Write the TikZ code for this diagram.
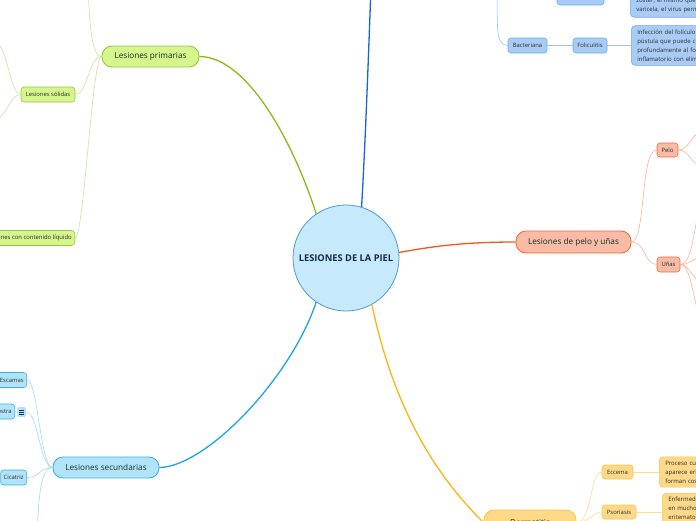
\documentclass[tikz,border=0pt]{standalone}
\usepackage{fontspec}
\setmainfont{Open Sans}
\usetikzlibrary{positioning}
\definecolor{centrefill}{RGB}{198,233,251}
\definecolor{centreline}{RGB}{77,155,214}
\definecolor{centretext}{RGB}{21,41,74}
\definecolor{labeltext}{RGB}{24,50,36}
\definecolor{smalltext}{RGB}{45,45,45}
\definecolor{greenline}{RGB}{134,190,20}
\definecolor{greenfill}{RGB}{214,245,140}
\definecolor{greenedge}{RGB}{150,201,61}
\definecolor{greenthin}{RGB}{200,228,150}
\definecolor{navyline}{RGB}{21,101,216}
\definecolor{bluefill}{RGB}{169,204,247}
\definecolor{blueedge}{RGB}{111,168,236}
\definecolor{bluethin}{RGB}{157,195,240}
\definecolor{redline}{RGB}{242,88,30}
\definecolor{redfill}{RGB}{248,187,166}
\definecolor{rededge}{RGB}{242,107,58}
\definecolor{redthin}{RGB}{249,180,155}
\definecolor{cyanline}{RGB}{28,164,232}
\definecolor{cyanfill}{RGB}{177,228,251}
\definecolor{cyanedge}{RGB}{59,177,230}
\definecolor{cyanthin}{RGB}{158,217,245}
\definecolor{yellowline}{RGB}{251,181,21}
\definecolor{yellowfill}{RGB}{254,217,138}
\definecolor{yellowedge}{RGB}{252,197,74}
\definecolor{yellowthin}{RGB}{253,219,143}

\tikzset{
  topic/.style={draw, rounded corners=10pt, line width=0.9pt, minimum height=21pt,
    inner sep=0pt, text=labeltext, font=\fontsize{8.2}{9}\selectfont},
  subtopic/.style={draw, rounded corners=3pt, line width=0.6pt, minimum height=15pt,
    inner xsep=3pt, inner ysep=0pt, text=smalltext, font=\fontsize{5.9}{6.5}\selectfont},
  note/.style={draw, rounded corners=4pt, line width=0.6pt, align=left, text width=80pt,
    inner xsep=6pt, inner ysep=4pt, text=smalltext, font=\fontsize{6}{9}\selectfont},
  branch/.style={line width=1.3pt},
  twig/.style={line width=0.6pt}
}

\begin{document}
\begin{tikzpicture}[x=1pt,y=-1pt]
\useasboundingbox (0,0) rectangle (696,520);
\clip (0,0) rectangle (696,520);

% centre
\node[circle, draw=centreline, fill=centrefill, line width=0.8pt, minimum size=106pt,
  inner sep=0pt, text=centretext, font=\fontsize{9.3}{10}\selectfont\bfseries] (piel) at (346,258) {LESIONES DE LA PIEL};

% main topics
\node[topic, fill=greenfill, draw=greenedge, minimum width=97pt] (prim) at (150.5,56.5) {Lesiones primarias};
\node[topic, fill=redfill, draw=rededge, minimum width=115pt, minimum height=22pt] (pelounas) at (573.5,242) {Lesiones de pelo y uñas};
\node[topic, fill=cyanfill, draw=cyanedge, minimum width=106pt] (secu) at (106,467.5) {Lesiones secundarias};
\node[topic, fill=yellowfill, draw=yellowedge, minimum width=92pt, minimum height=25pt] (derma) at (530,522.5) {Dermatitis};
\coordinate (virus) at (372,-40);

% primarias
\node[subtopic, fill=greenfill, draw=greenedge, minimum width=54pt] (solidas) at (48,94.5) {Lesiones sólidas};
\node[subtopic, fill=greenfill, draw=greenedge, anchor=east] (liquido) at (75,238) {Lesiones con contenido líquido};
\coordinate (primtop) at (88,-20);
\coordinate (solup) at (-4,42);
\coordinate (soldown) at (-4,120);

% secundarias
\node[subtopic, fill=cyanfill, draw=cyanedge, anchor=east] (escamas) at (27,380) {Escamas};
\node[subtopic, fill=cyanfill, draw=cyanedge, anchor=east] (costra) at (15,411.5) {Costra};
\node[draw=none, fill=cyanfill, rounded corners=1.5pt, minimum width=9pt, minimum height=10pt, inner sep=0pt] (costranota) at (21.5,412) {};
\node[subtopic, fill=cyanfill, draw=cyanedge, anchor=east] (cicatriz) at (27,477.5) {Cicatriz};
\coordinate (secdown) at (37,545);

% virus / bacteria
\node[subtopic, fill=bluefill, draw=blueedge, minimum width=47pt, minimum height=16pt] (herpes) at (580.5,-3) {Herpes zóster};
\node[note, fill=bluefill, draw=blueedge, anchor=south west] (herpesnota) at (630,17.5) {zóster, el mismo que c\\varicela, el virus perm};
\node[subtopic, fill=bluefill, draw=blueedge, minimum width=39pt] (bact) at (527.5,45.5) {Bacteriana};
\node[subtopic, fill=bluefill, draw=blueedge, minimum width=34pt] (folic) at (590,45.5) {Foliculitis};
\node[note, fill=bluefill, draw=blueedge, anchor=west, minimum height=39pt] (folicnota) at (631,45.5) {Infección del folículo\\pústula que puede cu\\profundamente al fol\\inflamatorio con elim};
\coordinate (bacttop) at (497,-20);

% pelo y uñas
\node[subtopic, fill=redfill, draw=rededge, minimum width=21pt, minimum height=14pt, inner xsep=2pt] (pelo) at (667.5,150) {Pelo};
\node[subtopic, fill=redfill, draw=rededge, minimum width=23pt, inner xsep=2pt] (unas) at (668.5,264.5) {Uñas};
\coordinate (peloa) at (702,132);
\coordinate (pelob) at (702,166);
\coordinate (unasa) at (702,205);
\coordinate (unasb) at (702,258);
\coordinate (unasc) at (702,282);
\coordinate (unasd) at (702,322);

% dermatitis
\node[subtopic, fill=yellowfill, draw=yellowedge, minimum width=31pt, minimum height=14pt] (eccema) at (617.5,472) {Eccema};
\node[subtopic, fill=yellowfill, draw=yellowedge, minimum width=34pt, minimum height=14pt] (psori) at (619,512) {Psoriasis};
\node[note, fill=yellowfill, draw=yellowedge, anchor=west, minimum height=30pt] (eccemanota) at (659,472) {Proceso cut\\aparece eri\\forman cost};
\node[note, fill=yellowfill, draw=yellowedge, anchor=north west] (psorinota) at (662,493) {Enfermeda\\en muchos\\eritematos};

% main branches
\draw[branch, greenline] (prim.east) .. controls (250,57) and (296,150) .. (piel.124);
\draw[branch, navyline] (piel.73) .. controls (366,130) and (369,40) .. (virus);
\draw[branch, redline] (piel.6) .. controls (430,247) and (460,242) .. (pelounas.west);
\draw[branch, cyanline] (secu.east) .. controls (205,467) and (290,380) .. (piel.236);
\draw[branch, yellowline] (piel.299) .. controls (392,400) and (430,470) .. (derma.west);

% primarias twigs
\draw[twig, greenthin] (prim.west) .. controls (92,57) and (89,25) .. (primtop);
\draw[twig, greenthin] (prim.west) .. controls (88,57) and (88,94.5) .. (solidas.east);
\draw[twig, greenthin] (prim.west) .. controls (92,57) and (84,238) .. (liquido.east);
\draw[twig, greenthin] (solidas.west) .. controls (10,94.5) and (8,48) .. (solup);
\draw[twig, greenthin] (solidas.west) .. controls (10,94.5) and (8,114) .. (soldown);

% secundarias twigs
\draw[twig, cyanthin] (secu.west) .. controls (40,467) and (38,380) .. (escamas.east);
\draw[twig, cyanthin] (secu.west) .. controls (40,467) and (38,412) .. (costranota.east);
\draw[twig, cyanthin] (costra.east) -- (costranota.west);
\draw[twig, cyanthin] (secu.west) .. controls (40,467) and (40,477.5) .. (cicatriz.east);
\draw[twig, cyanthin] (secu.west) .. controls (42,467) and (38,490) .. (secdown);
\foreach \dy in {-2,0,2}
  \draw[line width=0.6pt, centretext] ([xshift=-2.3pt,yshift=\dy pt]costranota.center) -- ([xshift=2.3pt,yshift=\dy pt]costranota.center);

% virus / bacteria twigs
\draw[twig, bluethin] (bacttop) .. controls (498,20) and (494,45.5) .. (bact.west);
\draw[twig, bluethin] (bact.east) -- (folic.west);
\draw[twig, bluethin] (folic.east) -- (folicnota.west);

% pelo y uñas twigs
\draw[twig, redthin] (pelounas.east) .. controls (646,242) and (640,150) .. (pelo.west);
\draw[twig, redthin] (pelounas.east) .. controls (646,242) and (644,264.5) .. (unas.west);
\draw[twig, redthin] (pelo.east) .. controls (690,150) and (690,134) .. (peloa);
\draw[twig, redthin] (pelo.east) .. controls (690,150) and (690,164) .. (pelob);
\draw[twig, redthin] (unas.east) .. controls (694,264.5) and (694,215) .. (unasa);
\draw[twig, redthin] (unas.east) .. controls (690,264.5) and (692,258) .. (unasb);
\draw[twig, redthin] (unas.east) .. controls (690,264.5) and (692,280) .. (unasc);
\draw[twig, redthin] (unas.east) .. controls (692,264.5) and (694,310) .. (unasd);

% dermatitis twigs
\draw[twig, yellowthin] (derma.east) .. controls (592,522.5) and (590,472) .. (eccema.west);
\draw[twig, yellowthin] (derma.east) .. controls (590,522.5) and (592,512) .. (psori.west);
\draw[twig, yellowthin] (eccema.east) -- (eccemanota.west);
\draw[twig, yellowthin] (psori.east) -- (psori.east -| psorinota.west);
\end{tikzpicture}
\end{document}
